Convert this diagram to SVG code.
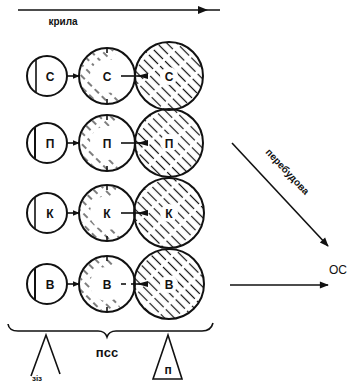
<svg xmlns="http://www.w3.org/2000/svg" width="356" height="383" viewBox="0 0 356 383">
<style>
.c{fill:#fff;stroke:#111;stroke-width:2}
.h{fill:url(#hatch);stroke:#111;stroke-width:2}
.ln{stroke:#111;stroke-width:1.6;fill:none}
.t{font-family:"Liberation Sans",Arial,sans-serif;font-weight:bold;font-size:12px;fill:#111;text-anchor:middle}
.lab{font-family:"Liberation Sans",Arial,sans-serif;font-size:12px;fill:#111;text-anchor:middle}
</style>
<defs>
<pattern id="hatch" patternUnits="userSpaceOnUse" width="7" height="16" patternTransform="rotate(-45)">
<line x1="3.5" y1="0" x2="3.5" y2="16" stroke="#111" stroke-width="1.2" stroke-dasharray="13 3"/>
</pattern>
<pattern id="hatch2" patternUnits="userSpaceOnUse" width="8" height="10" patternTransform="rotate(-45)">
<line x1="4" y1="0" x2="4" y2="10" stroke="#111" stroke-width="1.1" stroke-dasharray="6 4"/>
</pattern>
<marker id="ar" viewBox="0 0 10 10" refX="9" refY="5" markerWidth="7" markerHeight="7" orient="auto" markerUnits="userSpaceOnUse">
<path d="M0,1 L10,5 L0,9 Z" fill="#111"/>
</marker>
<marker id="arb" viewBox="0 0 10 10" refX="9" refY="5" markerWidth="10" markerHeight="9" orient="auto" markerUnits="userSpaceOnUse">
<path d="M0,1 L10,5 L0,9 Z" fill="#111"/>
</marker>
</defs>

<g id="wings">
<line class="ln" x1="18" y1="10" x2="220" y2="10"/>
<path d="M198,6 L208,10 L198,14 Z" fill="#111"/>
<text x="63" y="25" class="lab" style="font-size:10px;font-weight:bold">крила</text>
</g>

<g id="row-s">
<circle class="c" cx="47" cy="76" r="20"/>
<line class="ln" x1="36" y1="60" x2="36" y2="92"/>
<text class="t" x="50" y="81">С</text>
<circle class="c" cx="107" cy="76" r="28"/>
<circle cx="107" cy="76" r="22" fill="none" stroke="url(#hatch2)" stroke-width="10" stroke-dasharray="0 23 88 27"/>
<line class="ln" x1="107" y1="48" x2="107" y2="53"/><line class="ln" x1="107" y1="99" x2="107" y2="104"/>
<text class="t" x="107" y="81">С</text>
<circle class="h" cx="169" cy="76" r="34"/>
<circle cx="169" cy="76" r="9" fill="#fff"/>
<text class="t" x="169" y="81">С</text>
</g>

<g id="row-p">
<circle class="c" cx="47" cy="143" r="20"/>
<line class="ln" x1="35" y1="127" x2="35" y2="159" style="stroke-width:2"/>
<text class="t" x="50" y="148">П</text>
<circle class="c" cx="107" cy="143" r="28"/>
<circle cx="107" cy="143" r="22" fill="none" stroke="url(#hatch2)" stroke-width="10" stroke-dasharray="0 23 88 27"/>
<line class="ln" x1="107" y1="115" x2="107" y2="120"/><line class="ln" x1="107" y1="166" x2="107" y2="171"/>
<text class="t" x="107" y="148">П</text>
<circle class="h" cx="169" cy="143" r="34"/>
<circle cx="169" cy="143" r="9" fill="#fff"/>
<text class="t" x="169" y="148">П</text>
</g>

<g id="row-k">
<circle class="c" cx="47" cy="213" r="20"/>
<line class="ln" x1="35" y1="197" x2="35" y2="229"/>
<text class="t" x="50" y="218">К</text>
<circle class="c" cx="107" cy="213" r="28"/>
<circle cx="107" cy="213" r="22" fill="none" stroke="url(#hatch2)" stroke-width="10" stroke-dasharray="0 23 88 27"/>
<line class="ln" x1="107" y1="185" x2="107" y2="190"/><line class="ln" x1="107" y1="236" x2="107" y2="241"/>
<text class="t" x="107" y="218">К</text>
<circle class="h" cx="169" cy="213" r="35"/>
<circle cx="169" cy="213" r="9" fill="#fff"/>
<text class="t" x="169" y="218">К</text>
</g>

<g id="row-v">
<circle class="c" cx="47" cy="284" r="20"/>
<line class="ln" x1="35" y1="268" x2="35" y2="300" style="stroke-width:2"/>
<text class="t" x="50" y="289">В</text>
<circle class="c" cx="107" cy="284" r="28"/>
<circle cx="107" cy="284" r="22" fill="none" stroke="url(#hatch2)" stroke-width="10" stroke-dasharray="0 23 88 27"/>
<line class="ln" x1="107" y1="256" x2="107" y2="261"/><line class="ln" x1="107" y1="307" x2="107" y2="312"/>
<text class="t" x="107" y="289">В</text>
<circle class="h" cx="169" cy="284" r="35"/>
<circle cx="169" cy="284" r="9" fill="#fff"/>
<text class="t" x="169" y="289">В</text>
</g>

<g id="connectors">
<line class="ln" x1="67" y1="76" x2="79" y2="76" marker-end="url(#ar)"/>
<line class="ln" x1="67" y1="143" x2="79" y2="143" marker-end="url(#ar)"/>
<line class="ln" x1="67" y1="213" x2="79" y2="213" marker-end="url(#ar)"/>
<line class="ln" x1="67" y1="284" x2="79" y2="284" marker-end="url(#ar)"/>
<line class="ln" x1="121" y1="76" x2="148" y2="76"/><path d="M148,73 L137,76 L148,79 Z" fill="#111"/>
<line class="ln" x1="121" y1="143" x2="148" y2="143"/><path d="M148,140 L137,143 L148,146 Z" fill="#111"/>
<line class="ln" x1="121" y1="213" x2="148" y2="213"/><path d="M148,210 L137,213 L148,216 Z" fill="#111"/>
<line class="ln" x1="121" y1="284" x2="126" y2="284"/><line class="ln" x1="131" y1="284" x2="148" y2="284"/><path d="M148,281 L137,284 L148,287 Z" fill="#111"/>
<line class="ln" x1="232" y1="143" x2="328" y2="246" marker-end="url(#arb)"/>
<line class="ln" x1="230" y1="285" x2="328" y2="285" marker-end="url(#arb)"/>
</g>

<g id="rebuild-label">
<text class="lab" transform="translate(285,174) rotate(47)" style="font-size:10px;font-weight:bold">перебудова</text>
</g>

<g id="os">
<text x="338" y="274" class="lab" style="font-size:12px">ОС</text>
</g>

<g id="pss">
<path class="ln" d="M8,324 Q9,331 18,331 L98,331 Q105,331 107,337 Q109,331 116,331 L202,331 Q211,331 213,323"/>
<text x="107" y="357" class="lab" style="font-size:13px;font-weight:bold">псс</text>
</g>

<g id="tri-left">
<path class="ln" d="M31,376 L46,335 L60,374"/>
<text x="37" y="381" class="lab" style="font-size:8px;font-weight:bold">зіз</text>
</g>

<g id="tri-right">
<path class="ln" d="M153,379 L168,335 L182,379 Z"/>
<text x="168" y="374" class="lab" style="font-size:12px;font-weight:bold">п</text>
</g>
</svg>
